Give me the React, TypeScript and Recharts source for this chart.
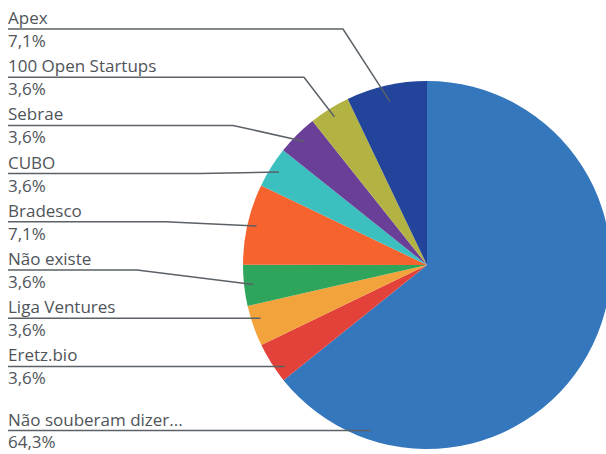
import React from "react";
import { PieChart, Pie, Cell } from "recharts";

// clockwise from 12 o'clock
const names = [
  "Não souberam dizer...",
  "Eretz.bio",
  "Liga Ventures",
  "Não existe",
  "Bradesco",
  "CUBO",
  "Sebrae",
  "100 Open Startups",
  "Apex",
];
const shares = [64.3, 3.6, 3.6, 3.6, 7.1, 3.6, 3.6, 3.6, 7.1];
const shareLabels = ["64,3%", "3,6%", "3,6%", "3,6%", "7,1%", "3,6%", "3,6%", "3,6%", "7,1%"];
const colors = [
  "#3577bc",
  "#e2423a",
  "#f2a33b",
  "#2fa45b",
  "#f6632f",
  "#3bbfbf",
  "#6a3f97",
  "#b3b344",
  "#23449b",
];

// leader line bend x per slice (null = straight line)
const bendX: (number | null)[] = [null, null, null, 137, 165, 200, 233, 304, 343];

const data = names.map((name, i) => ({ name, value: shares[i], pct: shareLabels[i] }));

const RADIAN = Math.PI / 180;
const TEXT = "#4f5459";
const LINE = "#5b6166";
const FONT = "'Open Sans', sans-serif";

function lineYFor(index: number) {
  const row = names.length - 1 - index;
  return 29 + row * 48.2 + (index === 0 ? 16 : 0);
}

function renderLabel(props: any) {
  const { cx, cy, midAngle, outerRadius, index } = props;
  const y = lineYFor(index);
  const r = outerRadius * 0.95;
  const bend = bendX[index];
  let ex: number;
  let ey: number;
  let points: string;
  if (bend === null) {
    ey = y;
    ex = cx - Math.sqrt(Math.max(r * r - (y - cy) * (y - cy), 0));
    points = `8,${y} ${ex},${ey}`;
  } else {
    const rr = index === 8 ? outerRadius * 0.91 : r;
    ex = cx + rr * Math.cos(-midAngle * RADIAN);
    ey = cy + rr * Math.sin(-midAngle * RADIAN);
    points = `8,${y} ${bend},${y} ${ex},${ey}`;
  }
  return (
    <g key={`lbl-${index}`}>
      <polyline points={points} fill="none" stroke={LINE} strokeWidth={1.5} />
      <text x={8} y={y - 5} fill={TEXT} fontSize={17} fontFamily={FONT}>
        {data[index].name}
      </text>
      <text x={8} y={y + (index === 0 ? 17 : 18)} fill={TEXT} fontSize={17} fontFamily={FONT}>
        {data[index].pct}
      </text>
    </g>
  );
}

export default function App() {
  return (
    <div style={{ position: "absolute", left: 0, top: 0, width: 606, height: 454, background: "#fff" }}>
      <PieChart width={606} height={454} margin={{ top: 0, right: 0, bottom: 0, left: 0 }}>
        <Pie
          data={data}
          dataKey="value"
          nameKey="name"
          cx={427}
          cy={265}
          outerRadius={184}
          startAngle={90}
          endAngle={-270}
          stroke="none"
          label={renderLabel}
          labelLine={false}
          isAnimationActive={false}
        >
          {data.map((d, i) => (
            <Cell key={d.name} fill={colors[i]} />
          ))}
        </Pie>
      </PieChart>
    </div>
  );
}
